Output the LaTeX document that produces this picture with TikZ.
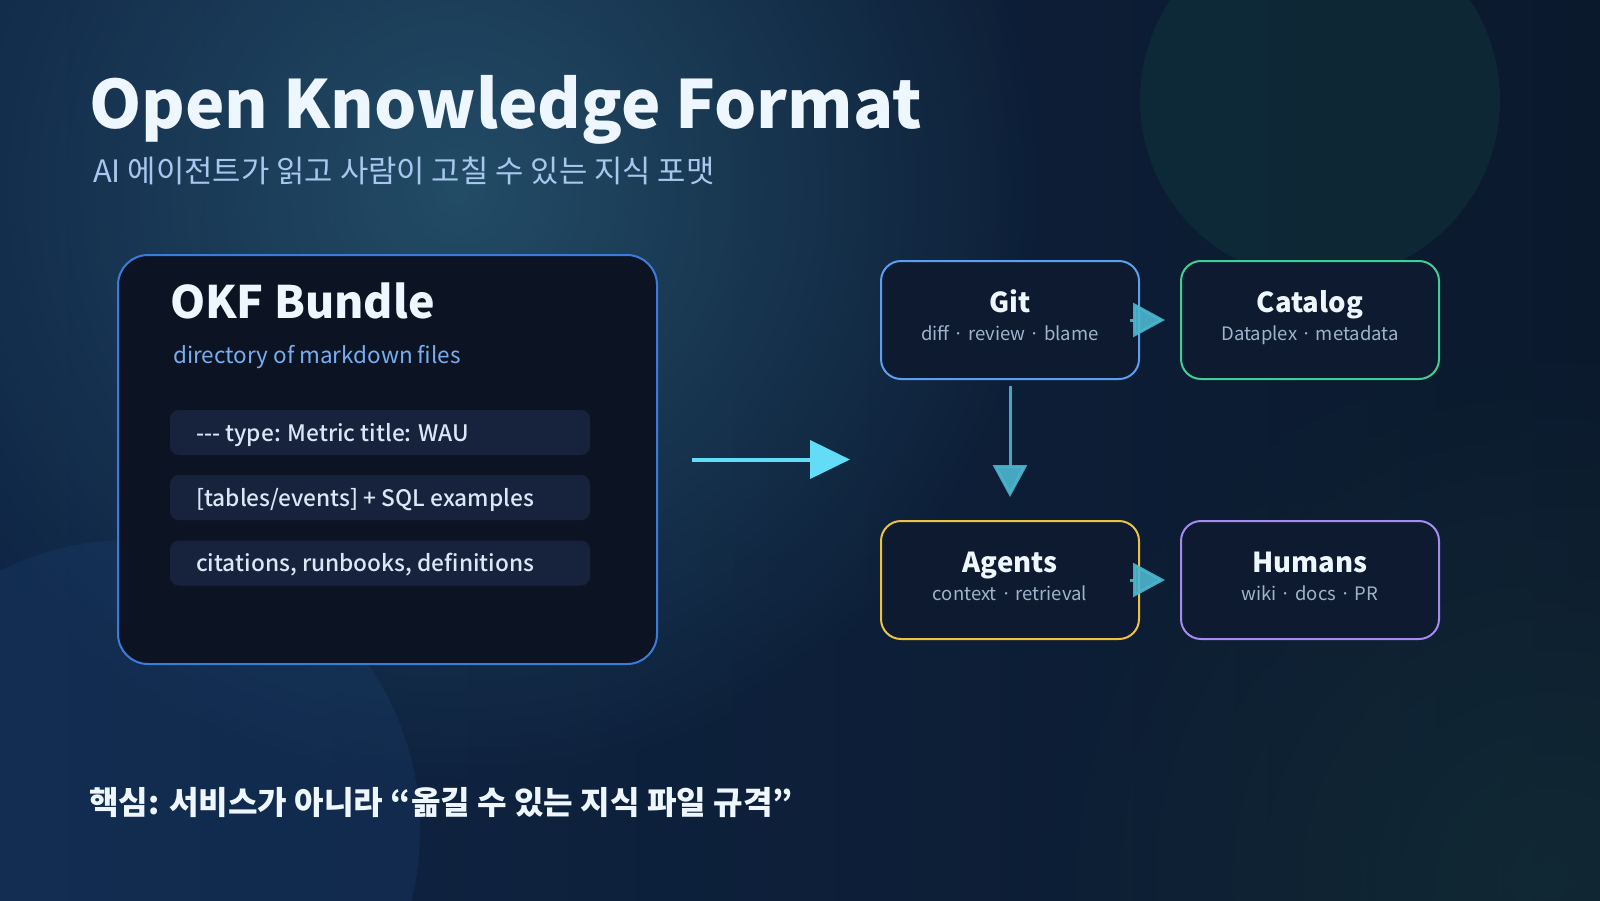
\documentclass[tikz,border=0pt]{standalone}
\usepackage{fontspec}
\newfontfamily\kr{Noto Sans CJK KR}
\newfontfamily\krmed{Noto Sans CJK KR Medium}
\usetikzlibrary{arrows.meta,fadings}
\tikzfading[name=glowfade, inner color=transparent!0, outer color=transparent!100]
\definecolor{bgbase}{HTML}{0C1B33}
\definecolor{bgleft}{HTML}{0F2545}
\definecolor{bgright}{HTML}{0B192D}
\definecolor{glowc}{HTML}{2A5A74}
\definecolor{glowgreen}{HTML}{17383A}
\definecolor{circteal}{HTML}{11403F}
\definecolor{circblue}{HTML}{1E4A80}
\definecolor{titlewhite}{HTML}{EEF6FF}
\definecolor{subblue}{HTML}{A8C7EE}
\definecolor{okfborder}{HTML}{3A7BDC}
\definecolor{okffill}{HTML}{0C1424}
\definecolor{dirblue}{HTML}{78AEF0}
\definecolor{rowfill}{HTML}{17223D}
\definecolor{rowtextc}{HTML}{DBE7F6}
\definecolor{boxfill}{HTML}{0D1A2F}
\definecolor{gitc}{HTML}{5D9EF0}
\definecolor{catc}{HTML}{3FCF95}
\definecolor{agentc}{HTML}{ECC23F}
\definecolor{humanc}{HTML}{A58BF0}
\definecolor{subgrey}{HTML}{9FB3CC}
\definecolor{arrowcyan}{HTML}{62DCF7}
\definecolor{arrowteal}{HTML}{4CB6CF}
\tikzset{
  okfbox/.style={draw=okfborder, line width=2pt, fill=okffill, rounded corners=30pt, minimum width=539pt, minimum height=409pt, inner sep=0pt},
  rowbox/.style={fill=rowfill, rounded corners=9pt, minimum width=420pt, minimum height=45pt, inner sep=0pt},
  rowlabel/.style={anchor=base west, inner sep=0pt, text=rowtextc, font=\krmed\fontsize{22.7}{27}\selectfont},
  flowbox/.style={fill=boxfill, line width=2pt, rounded corners=20pt, minimum width=258pt, minimum height=118pt, inner sep=0pt},
  boxtitle/.style={anchor=base, inner sep=0pt, text=titlewhite, font=\kr\bfseries\fontsize{27.5}{33}\selectfont},
  boxsub/.style={anchor=base, inner sep=0pt, text=subgrey, font=\kr\fontsize{18.5}{22}\selectfont},
  mainarrow/.style={draw=arrowcyan, fill=arrowcyan, line width=4pt, -{Triangle[length=40pt,width=38pt]}},
  smallarrow/.style={draw=arrowteal, fill=arrowteal, line width=3pt, opacity=0.9, -{Triangle[length=32pt,width=34pt]}},
}
\begin{document}
\begin{tikzpicture}[x=1pt,y=-1pt]
\useasboundingbox (0,0) rectangle (1600,900);
\begin{scope}
\clip (0,0) rectangle (1600,900);
\fill[bgbase] (0,0) rectangle (1600,900);
\shade[left color=bgleft, right color=bgright] (0,0) rectangle (1600,900);
\fill[glowc, path fading=glowfade, fill opacity=0.75] (460,190) circle (600);
\fill[glowgreen, path fading=glowfade, fill opacity=0.5] (1550,880) circle (550);
\fill[circteal, fill opacity=0.35] (1320,100) circle (180);
\fill[circblue, fill opacity=0.22] (130,830) circle (290);
\end{scope}

% title
\node[anchor=base west, inner sep=0pt, text=titlewhite, font=\kr\bfseries\fontsize{66.5}{78}\selectfont] (title) at (89,128) {Open Knowledge Format};
\node[anchor=base west, inner sep=0pt, text=subblue, font=\kr\fontsize{30.8}{36}\selectfont] (subtitle) at (93,182) {AI 에이전트가 읽고 사람이 고칠 수 있는 지식 포맷};

% OKF bundle
\node[okfbox] (okf) at (387.5,459.5) {};
\node[anchor=base west, inner sep=0pt, text=titlewhite, font=\kr\bfseries\fontsize{44.7}{53}\selectfont] (okft) at (170,318) {OKF Bundle};
\node[anchor=base west, inner sep=0pt, text=dirblue, font=\kr\fontsize{22.5}{27}\selectfont] (okfs) at (173,363) {directory of markdown files};
\node[rowbox] (r1) at (380,432.5) {};
\node[rowbox] (r2) at (380,497.5) {};
\node[rowbox] (r3) at (380,563) {};
\node[rowlabel] (t1) at (196,441) {\mbox{-}\mbox{-}\mbox{-} type: Metric title: WAU};
\node[rowlabel] (t2) at (196,506) {[tables/events] + SQL examples};
\node[rowlabel] (t3) at (196,571) {citations, runbooks, definitions};

% flow boxes
\node[flowbox, draw=gitc] (git) at (1010,320) {};
\node[flowbox, draw=catc] (cat) at (1310,320) {};
\node[flowbox, draw=agentc] (agents) at (1010,580) {};
\node[flowbox, draw=humanc] (humans) at (1310,580) {};

\node[boxtitle] (gitT) at ([yshift=8pt]git.center) {Git};
\node[boxsub] (gitS) at ([yshift=-20pt]git.center) {diff · review · blame};
\node[boxtitle] (catT) at ([yshift=8pt]cat.center) {Catalog};
\node[boxsub] (catS) at ([yshift=-20pt]cat.center) {Dataplex · metadata};
\node[boxtitle] (agT) at ([yshift=8pt]agents.center) {Agents};
\node[boxsub] (agS) at ([yshift=-20pt]agents.center) {context · retrieval};
\node[boxtitle] (huT) at ([yshift=8pt]humans.center) {Humans};
\node[boxsub] (huS) at ([yshift=-20pt]humans.center) {wiki · docs · PR};

% arrows
\draw[mainarrow] ([xshift=34pt]okf.east) -- ([xshift=-30pt]okf.east -| git.west);
\draw[smallarrow] ([xshift=-10pt]git.east) -- ([xshift=-15pt]cat.west);
\draw[smallarrow] ([xshift=-10pt]agents.east) -- ([xshift=-15pt]humans.west);
\draw[smallarrow] ([yshift=-6pt]git.south) -- ([yshift=23pt]agents.north);

% key message
\node[anchor=base west, inner sep=0pt, text=titlewhite, font=\kr\bfseries\fontsize{32.1}{38}\selectfont] (key) at (89,814) {핵심: 서비스가 아니라 “옮길 수 있는 지식 파일 규격”};
\end{tikzpicture}
\end{document}
